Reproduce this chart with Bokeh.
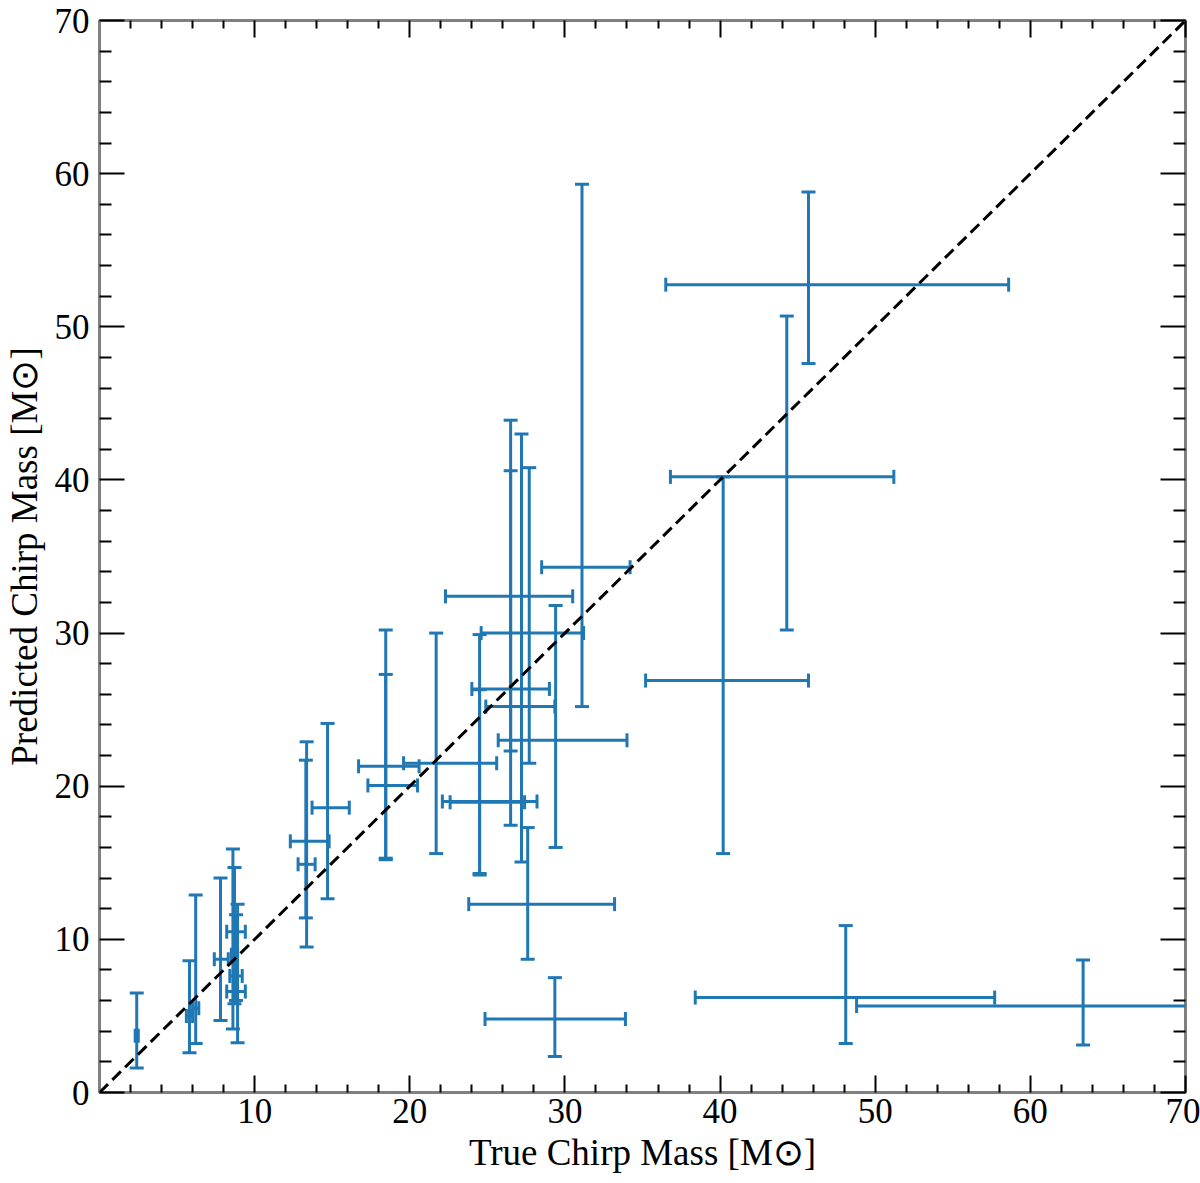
import math

from bokeh.plotting import figure
from bokeh.models import ColumnDataSource, LinearAxis, FixedTicker, Range1d
from bokeh.embed import file_html
from bokeh.resources import INLINE

# True vs. predicted chirp mass (solar masses) with asymmetric error ranges
true_mass = [2.4, 5.8, 6.2, 7.8, 8.7, 8.6, 8.9, 8.8, 13.35, 13.3, 14.7, 18.45, 18.45,
             21.7, 24.5, 24.5, 26.5, 26.5, 27.2, 27.7, 27.6, 29.4, 31.1, 29.35, 40.2,
             44.3, 45.7, 48.1, 63.4]
pred_mass = [3.7, 5.0, 5.5, 8.7, 10.5, 9.0, 6.6, 7.6, 16.4, 14.9, 18.6, 21.3, 20.05,
             21.5, 19.0, 18.95, 32.4, 26.35, 25.2, 30.0, 12.3, 23.0, 34.3, 4.8, 26.9,
             40.2, 52.75, 6.2, 5.65]
true_lo = [2.3, 5.6, 6.0, 7.4, 8.2, 8.5, 8.2, 8.4, 12.3, 12.8, 13.7, 16.7, 17.3,
           19.6, 22.1, 22.6, 22.3, 24.0, 24.9, 24.6, 23.8, 25.7, 28.5, 24.85, 35.2,
           36.8, 36.5, 38.4, 48.8]
true_hi = [2.5, 6.0, 6.4, 8.3, 9.4, 8.8, 9.4, 9.2, 14.8, 13.9, 16.1, 20.6, 20.5,
           25.6, 28.2, 27.4, 30.5, 29.0, 29.35, 31.2, 33.2, 34.0, 34.2, 33.9, 45.7,
           51.2, 58.6, 57.7, 77.8]
pred_lo = [1.6, 2.6, 3.2, 4.7, 5.8, 4.15, 3.25, 6.0, 9.5, 11.4, 12.65, 15.2, 15.3,
           15.6, 14.3, 14.2, 22.3, 17.45, 15.05, 21.5, 8.7, 16.0, 25.2, 2.35, 15.6,
           30.2, 47.6, 3.2, 3.1]
pred_hi = [6.5, 8.6, 12.9, 14.0, 14.7, 15.9, 12.3, 11.6, 22.9, 21.7, 24.1, 30.2, 27.3,
           30.0, 29.9, 26.3, 43.9, 40.6, 43.0, 40.8, 17.3, 31.8, 59.3, 7.5, 40.2,
           50.7, 58.8, 10.9, 8.65]

axis_min, axis_max = 0, 70
x_ticks = [10, 20, 30, 40, 50, 60, 70]
y_ticks = [0, 10, 20, 30, 40, 50, 60, 70]
minor_ticks = [v for v in range(axis_min, axis_max + 1, 2) if v % 10]

BLUE = "#1f77b4"
SERIF = "Liberation Serif"

p = figure(width=1200, height=1183,
           x_range=Range1d(axis_min, axis_max), y_range=Range1d(axis_min, axis_max),
           output_backend="svg", toolbar_location=None,
           min_border_left=98, min_border_right=15,
           min_border_top=20, min_border_bottom=91)
p.grid.visible = False
p.outline_line_color = "#808080"
p.outline_line_width = 3
p.background_fill_color = "white"
p.border_fill_color = "white"

bottom_axis = p.below[0]
left_axis = p.left[0]
top_axis = LinearAxis()
right_axis = LinearAxis()
p.add_layout(top_axis, "above")
p.add_layout(right_axis, "right")


def style_axis(ax, ticks, major_len, minor_len, show_labels):
    ax.ticker = FixedTicker(ticks=ticks, minor_ticks=minor_ticks)
    ax.axis_line_color = None
    ax.major_tick_in = major_len
    ax.major_tick_out = 0
    ax.minor_tick_in = minor_len
    ax.minor_tick_out = 0
    ax.major_tick_line_color = "black"
    ax.minor_tick_line_color = "black"
    ax.major_tick_line_width = 2
    ax.minor_tick_line_width = 2
    if show_labels:
        ax.major_label_text_font = SERIF
        ax.major_label_text_font_size = "35px"
        ax.major_label_text_color = "black"
        ax.axis_label_text_font = SERIF
        ax.axis_label_text_font_size = "37px"
        ax.axis_label_text_font_style = "normal"
        ax.axis_label_text_color = "black"
    else:
        ax.major_label_overrides = {t: "" for t in ticks}
        ax.major_label_standoff = 0


style_axis(bottom_axis, x_ticks, 17, 8, True)
style_axis(left_axis, y_ticks, 25, 12, True)
style_axis(top_axis, x_ticks, 17, 8, False)
style_axis(right_axis, y_ticks, 25, 12, False)

bottom_axis.axis_label = "True Chirp Mass [M\u2299]"
left_axis.axis_label = "Predicted Chirp Mass [M\u2299]"
bottom_axis.major_label_standoff = 6
bottom_axis.axis_label_standoff = 6
left_axis.major_label_standoff = 10
left_axis.axis_label_standoff = 7

src = ColumnDataSource(dict(x=true_mass, y=pred_mass,
                            xlo=true_lo, xhi=true_hi,
                            ylo=pred_lo, yhi=pred_hi))

# error bars
p.segment(x0="x", y0="ylo", x1="x", y1="yhi", source=src, line_color=BLUE, line_width=3)
p.segment(x0="xlo", y0="y", x1="xhi", y1="y", source=src, line_color=BLUE, line_width=3)

# caps: horizontal ticks on the vertical bars, vertical ticks on the horizontal bars
cap_size = 14
for ycol in ("ylo", "yhi"):
    p.scatter(x="x", y=ycol, source=src, marker="dash", size=cap_size,
              line_color=BLUE, line_width=3)
for xcol in ("xlo", "xhi"):
    p.scatter(x=xcol, y="y", source=src, marker="dash", size=cap_size, angle=math.pi / 2,
              line_color=BLUE, line_width=3)

# one-to-one reference line
p.line(x=[axis_min, axis_max], y=[axis_min, axis_max], line_color="black",
       line_width=3, line_dash="12 6")

open("out.html", "w").write(file_html(p, INLINE))
